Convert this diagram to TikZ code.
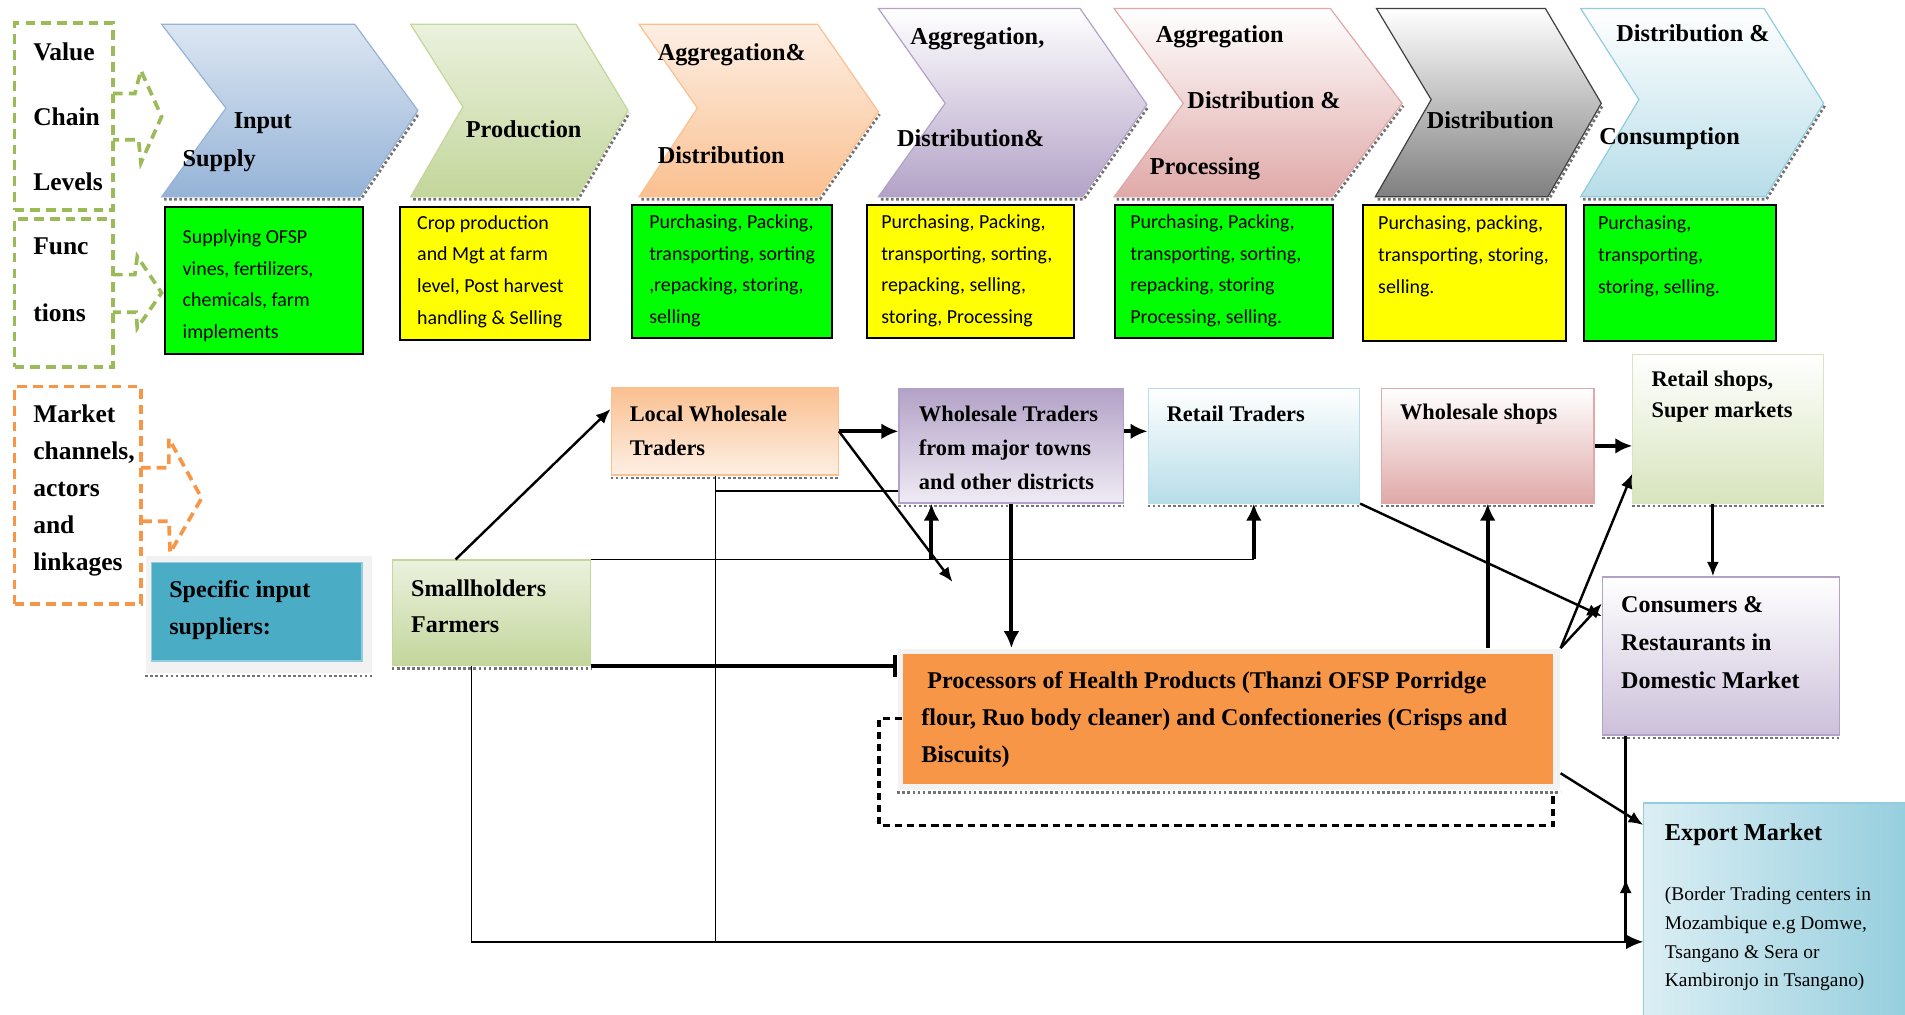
\documentclass[tikz,border=0pt]{standalone}
\usepackage{fontspec}
\setmainfont{Liberation Serif}
\newfontfamily\funcfont{Carlito}
\usepackage{tikz}
\usetikzlibrary{arrows.meta,calc,fit}
\definecolor{lvlGreen}{HTML}{9BBB59}
\definecolor{lvlOrange}{HTML}{F79646}
\definecolor{inLight}{HTML}{DCE6F2}
\definecolor{inDark}{HTML}{95B3D7}
\definecolor{prLight}{HTML}{EBF1DE}
\definecolor{prDark}{HTML}{C3D69B}
\definecolor{agLight}{HTML}{FDEFE4}
\definecolor{agDark}{HTML}{FAC090}
\definecolor{puLight}{HTML}{EFEBF4}
\definecolor{puDark}{HTML}{B3A2C7}
\definecolor{pkDark}{HTML}{DFA9A8}
\definecolor{gyDark}{HTML}{7F7F7F}
\definecolor{gyEdge}{HTML}{404040}
\definecolor{bluDark}{HTML}{B7DDE8}
\definecolor{bluEdge}{HTML}{93CDDD}
\definecolor{fGreen}{HTML}{00FF00}
\definecolor{fYellow}{HTML}{FFFF00}
\definecolor{suppTeal}{HTML}{4BACC6}
\definecolor{frameGray}{HTML}{F2F2F2}
\definecolor{procOrange}{HTML}{F79646}
\definecolor{rsDark}{HTML}{D7E4BD}
\definecolor{coDark}{HTML}{CCC0DA}
\definecolor{exLight}{HTML}{DBEEF4}
\definecolor{exDark}{HTML}{93CDDD}
\tikzset{>=Latex,
  lvlbox/.style={draw=lvlGreen,line width=1.5pt,dash pattern=on 4pt off 2.5pt,inner sep=0pt},
  lvlarrow/.style={draw=lvlGreen,line width=1.5pt,dash pattern=on 4pt off 2.5pt},
  mktbox/.style={lvlbox,draw=lvlOrange},
  mktarrow/.style={lvlarrow,draw=lvlOrange},
  chev/.style={line width=0.5pt},
  rim/.style={draw=black!55,line width=1.1pt,densely dotted},
  lvl/.style={font=\bfseries\fontsize{10.5}{15.25}\selectfont,align=left,inner sep=0pt,anchor=west},
  head/.style={font=\bfseries\fontsize{10}{15.25}\selectfont,align=left,inner sep=0pt,anchor=west},
  func/.style={font=\funcfont\fontsize{8.2}{13}\selectfont,align=left,inner sep=0pt,anchor=west},
  chan/.style={font=\bfseries\fontsize{9.2}{14}\selectfont,align=left,inner sep=0pt,anchor=west},
  panel/.style={inner sep=0pt,line width=0.5pt},
  funcbox/.style={panel,draw=black,line width=0.8pt},
  link/.style={line width=0.6pt},
  feed/.style={line width=1.6pt,-{Latex[length=7pt,width=6.5pt]}},
  slant/.style={line width=1pt,-{Latex[length=6pt,width=5pt]}},
  fb/.style={line width=1.5pt,dash pattern=on 3pt off 2pt}}
\begin{document}
\begin{tikzpicture}[x=0.5pt,y=-0.5pt]
  \useasboundingbox (0,0) rectangle (1568,835);
  \node[lvlbox,fit={(12,19) (93,173)}] (vcl) {};
  \node[lvl,font=\bfseries\fontsize{10.5}{26.75}\selectfont] (vclt) at (27,96) {Value\\Chain\\Levels};
  \draw[lvlarrow] (93,77) -- (111,77) -- (116,58) -- (133,96) -- (116,134) -- (114,115) -- (93,115);
  \node[lvlbox,fit={(12,180) (93,302)}] (fn) {};
  \node[lvl,font=\bfseries\fontsize{10.5}{27.5}\selectfont] (fnt) at (27,230.5) {Func\\tions};
  \draw[lvlarrow] (93,226) -- (111,226) -- (113,211) -- (133,241) -- (113,270) -- (112,257) -- (93,257);
  \node[mktbox,fit={(12,318) (116,497)}] (mkt) {};
  \node[lvl] (mktt) at (27,404) {Market\\channels,\\actors\\and\\linkages};
  \draw[mktarrow] (116,385) -- (139,385) -- (139,361) -- (166,410) -- (140,455) -- (139,429) -- (116,429);

  \path[chev,top color=inLight,bottom color=inDark,draw=inDark] (133,20) -- (292,20) -- (344,91) -- (296,162) -- (133,162) -- (186,89) -- cycle;
  \path[chev,top color=prLight,bottom color=prDark,draw=prDark] (338,20) -- (474,20) -- (517,91) -- (475,162) -- (338,162) -- (381,88) -- cycle;
  \path[chev,top color=agLight,bottom color=agDark,draw=agDark] (526,20) -- (673,20) -- (723,92) -- (674,162) -- (526,162) -- (574,89) -- cycle;
  \path[chev,top color=white,bottom color=puDark,draw=puDark] (723,7) -- (889,7) -- (944,86) -- (891,162) -- (723,162) -- (778,85) -- cycle;
  \path[chev,top color=white,bottom color=pkDark,draw=pkDark] (917,7) -- (1095,7) -- (1154,85) -- (1096,162) -- (917,162) -- (974,85) -- cycle;
  \path[chev,top color=white,bottom color=gyDark,draw=gyEdge] (1133,7) -- (1272,7) -- (1318,85) -- (1274,162) -- (1132,162) -- (1178,82) -- cycle;
  \path[chev,top color=white,bottom color=bluDark,draw=bluEdge] (1301,7) -- (1452,7) -- (1501,85) -- (1453,162) -- (1301,162) -- (1349,82) -- cycle;
  \foreach \bl/\br/\tx/\ty in {135/296/344/91,340/475/517/91,528/674/723/92,725/891/944/86,919/1096/1154/85,1134/1274/1318/85,1303/1453/1501/85}
    \draw[rim] (\bl,164) -- (\br+1,164) -- (\tx+1,\ty+2);
  \node[head] (isup) at (150,117) {\hspace*{21pt}Input\\Supply};
  \node[head] (prod) at (383,106) {Production};
  \node[head,font=\bfseries\fontsize{10}{42.5}\selectfont] (agd) at (541,85.5) {Aggregation\&\\Distribution};
  \node[head,font=\bfseries\fontsize{10}{42}\selectfont] (agdd) at (738,72) {\hspace*{5.5pt}Aggregation,\\Distribution\&};
  \node[head,font=\bfseries\fontsize{10}{27.25}\selectfont] (agdp) at (946,84.5) {\hspace*{2.5pt}Aggregation\\\hspace*{15.5pt}Distribution \&\\Processing};
  \node[head] (dist) at (1174,99) {Distribution};
  \node[head,font=\bfseries\fontsize{10}{42.5}\selectfont] (dcon) at (1316,71.5) {\hspace*{7pt}Distribution \&\\Consumption};

  \node[funcbox,fill=fGreen,fit={(136,170) (299,291)}] (f1) {};
  \node[funcbox,fill=fYellow,fit={(329,170) (486,280)}] (f2) {};
  \node[funcbox,fill=fGreen,fit={(520,169) (685,278)}] (f3) {};
  \node[funcbox,fill=fYellow,fit={(714,169) (884,278)}] (f4) {};
  \node[funcbox,fill=fGreen,fit={(918,169) (1097,278)}] (f5) {};
  \node[funcbox,fill=fYellow,fit={(1122,169) (1289,281)}] (f6) {};
  \node[funcbox,fill=fGreen,fit={(1304,169) (1462,281)}] (f7) {};
  \node[func] (f1t) at (150,235) {Supplying OFSP\\vines, fertilizers,\\chemicals, farm\\implements};
  \node[func] (f2t) at (343,223.5) {Crop production\\and Mgt at farm\\level, Post harvest\\handling \& Selling};
  \node[func] (f3t) at (534,223) {Purchasing, Packing,\\transporting, sorting\\,repacking, storing,\\selling};
  \node[func] (f4t) at (725,223) {Purchasing, Packing,\\transporting, sorting,\\repacking, selling,\\storing, Processing};
  \node[func] (f5t) at (930,223) {Purchasing, Packing,\\transporting, sorting,\\repacking, storing\\Processing, selling.};
  \node[func] (f6t) at (1134,211) {Purchasing, packing,\\transporting, storing,\\selling.};
  \node[func] (f7t) at (1315,211) {Purchasing,\\transporting,\\storing, selling.};

  \node[panel,fill=frameGray,fit={(120,458) (306,554)}] (spF) {};
  \node[panel,fill=suppTeal,draw=bluEdge,fit={(125,463) (298,544)}] (sp) {};
  \node[chan,font=\bfseries\fontsize{9.9}{15}\selectfont] (spt) at (139,502) {Specific input\\suppliers:};
  \node[panel,top color=prLight,bottom color=prDark,draw=prDark,fit={(323,461) (486,548)}] (sh) {};
  \node[chan,font=\bfseries\fontsize{9.9}{15}\selectfont] (sht) at (338,499) {Smallholders\\Farmers};
  \node[panel,top color=agDark,bottom color=agLight,draw=agDark,fit={(503,319) (690,391)}] (lw) {};
  \node[chan] (lwt) at (518,355) {Local Wholesale\\Traders};
  \node[panel,top color=puDark,bottom color=puLight,draw=puDark,fit={(740,320) (925,414)}] (wt) {};
  \node[chan] (wtt) at (756,369) {Wholesale Traders\\from major towns\\and other districts};
  \node[panel,top color=white,bottom color=bluDark,draw=bluDark,fit={(945,320) (1119,414)}] (rt) {};
  \node[chan] (rtt) at (960,341) {Retail Traders};
  \node[panel,top color=white,bottom color=pkDark,draw=pkDark,fit={(1137,320) (1312,414)}] (ws) {};
  \node[chan] (wst) at (1152,341) {Wholesale shops};
  \node[panel,top color=white,bottom color=rsDark,draw=rsDark,fit={(1344,292) (1501,414)}] (rs) {};
  \node[chan,font=\bfseries\fontsize{9.2}{12.5}\selectfont] (rst) at (1359,326.5) {Retail shops,\\Super markets};
  \node[panel,top color=white,bottom color=coDark,draw=puDark,fit={(1319,475) (1514,605)}] (cons) {};
  \node[chan,font=\bfseries\fontsize{9.9}{15.5}\selectfont] (const) at (1334,529) {Consumers \&\\Restaurants in\\Domestic Market};
  \node[panel,fill=frameGray,fit={(739,534) (1284,650)}] (procF) {};
  \node[panel,fill=procOrange,fit={(743,538) (1278,645)}] (proc) {};
  \node[chan,font=\bfseries\fontsize{9.9}{15.25}\selectfont] (proct) at (758,592.5) {\hspace*{2.5pt}Processors of Health Products (Thanzi OFSP Porridge\\flour, Ruo body cleaner) and Confectioneries (Crisps and\\Biscuits)};
  \node[panel,left color=exLight,right color=exDark,draw=bluEdge,fit={(1353,661) (1580,845)}] (exp) {};
  \node[chan,font=\bfseries\fontsize{10}{12}\selectfont] (expt) at (1370,687) {Export Market};
  \node[chan,font=\fontsize{8}{11.85}\selectfont] (expd) at (1370,773) {(Border Trading centers in\\Mozambique e.g Domwe,\\Tsangano \& Sera or\\Kambironjo in Tsangano)};
  \foreach \n in {spF,sh,lw,wt,rt,ws,rs,cons,procF}
    \draw[rim] ([yshift=-1pt]\n.south west) -- ([yshift=-1pt]\n.south east);

  \coordinate (shTop) at ($(sh.north west)!0.32!(sh.north east)$);
  \coordinate (lwIn) at ($(lw.north west)!0.25!(lw.south west)$);
  \coordinate (lwEnd) at (784,479);
  \coordinate (lwDrop) at ($(lw.south west)!0.46!(lw.south east)$);
  \coordinate (wtIn) at ($(wt.north west)!0.89!(wt.south west)$);
  \coordinate (wtUp) at ($(wt.south west)!0.146!(wt.south east)$);
  \coordinate (shDrop) at ($(sh.south west)!0.4!(sh.south east)$);
  \coordinate (exIn) at ($(exp.north west)!0.62!(exp.south west)$);
  \coordinate (rsDown) at ($(rs.south west)!0.42!(rs.south east)$);
  \coordinate (coDrop) at ($(cons.south west)!0.1!(cons.south east)$);
  \draw[slant] (shTop) -- (lwIn);
  \draw[feed] (lw.east) -- (lw.east -| wt.west);
  \draw[feed] (wt.east |- lw.east) -- (rt.west |- lw.east);
  \draw[slant] (lw.east) -- (lwEnd);
  \draw[link] (lwDrop |- wtIn) -- (wtIn);
  \draw[link] (lwDrop) -- (lwDrop |- exIn);
  \draw[link,-{Latex[length=7pt,width=6pt]}] (shDrop) |- (exIn);
  \draw[link] (sh.north east) -- (sh.north east -| rt.south);
  \draw[feed] (sh.north east -| rt.south) -- (rt.south);
  \draw[feed] (sh.north east -| wtUp) -- (wtUp);
  \draw[feed] (wt.south) -- (wt.south |- procF.north);
  \draw[feed,-{Bar[width=9pt]}] (sh.south east) -- (sh.south east -| procF.west);
  \draw[feed] (ws.south |- procF.north) -- (ws.south);
  \draw[feed] (ws.east) -- (ws.east -| rs.west);
  \draw[slant,line width=1.2pt] (rsDown) -- (rsDown |- cons.north);
  \draw[slant] (rt.south east) -- ($(cons.north west)!0.25!(cons.south west)$);
  \draw[slant] (procF.north east) -- ($(cons.north west)!0.17!(cons.south west)$);
  \draw[slant] (procF.north east) -- ($(rs.north west)!0.8!(rs.south west)$);
  \draw[slant] ($(procF.north east)!0.88!(procF.south east)$) -- ($(exp.north west)!0.1!(exp.south west)$);
  \draw[line width=1pt] (coDrop) -- (coDrop |- exIn);
  \draw[slant] (coDrop |- exIn) -- ++(0,-52);
  \draw[fb] (proc.west) -- ++(-19,0) |- ($(proc.south east)+(0,34)$) -- ([yshift=-3pt]proc.south east);
\end{tikzpicture}
\end{document}
